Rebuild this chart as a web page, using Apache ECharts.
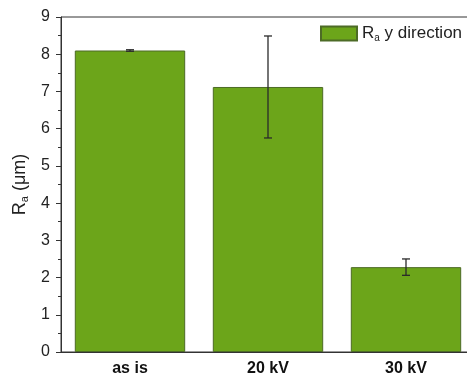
<!DOCTYPE html>
<html><head><meta charset="utf-8">
<script src="https://cdn.jsdelivr.net/npm/echarts@6/dist/echarts.min.js"></script>
<style>html,body{margin:0;padding:0;background:#fff;overflow:hidden}#c{width:480px;height:383px}</style>
</head><body><div id="c"></div>
<script>
const categories = ['as is', '20 kV', '30 kV'];
const raValues = [8.1, 7.12, 2.28];
const raErrors = [0.02, 1.37, 0.22];
const yTicks = [0, 1, 2, 3, 4, 5, 6, 7, 8, 9];

const chart = echarts.init(document.getElementById('c'), null, {renderer: 'canvas'});
const font = 'Liberation Sans, Arial, sans-serif';
const errData = categories.map((c, i) => [i, raValues[i] - raErrors[i], raValues[i] + raErrors[i]]);

chart.setOption({
  animation: false,
  grid: {left: 61, top: 17, bottom: 31, right: 5, show: true, borderColor: '#333', borderWidth: 1, containLabel: false},
  legend: {
    data: ['Ra'], left: 315, top: 20, itemWidth: 36, itemHeight: 14, itemGap: 5,
    icon: 'rect',
    formatter: () => '{r|R}{s|a}{r| y direction}',
    textStyle: {fontFamily: font, color: '#222', rich: {
      r: {fontSize: 17, fontFamily: font, color: '#222'},
      s: {fontSize: 10, fontFamily: font, color: '#222', verticalAlign: 'bottom', padding: [9, 0, 0, 0]}
    }}
  },
  xAxis: [{
    type: 'category', data: categories,
    axisLine: {lineStyle: {color: '#333'}},
    axisTick: {alignWithLabel: true, length: 5, inside: false, lineStyle: {color: '#333'}},
    axisLabel: {fontFamily: font, fontWeight: 'bold', fontSize: 16, color: '#111', margin: 9}
  }, {
    type: 'category', data: categories, position: 'bottom',
    axisLine: {show: false},
    axisTick: {length: 3, lineStyle: {color: '#333'}},
    axisLabel: {show: false}
  }],
  yAxis: {
    type: 'value', min: 0, max: 9, interval: 1,
    name: '{r|R}{s|a}{r| (μm)}', nameLocation: 'middle', nameGap: 30, nameRotate: 90,
    nameTextStyle: {rich: {
      r: {fontSize: 18, fontFamily: font, color: '#222'},
      s: {fontSize: 11, fontFamily: font, color: '#222', verticalAlign: 'bottom', padding: [10, 0, 0, 0]}
    }},
    axisLine: {show: true, lineStyle: {color: '#333'}},
    axisTick: {show: true, length: 5, lineStyle: {color: '#333'}},
    minorTick: {show: true, splitNumber: 2, length: 3, lineStyle: {color: '#333'}},
    splitLine: {show: false},
    axisLabel: {fontFamily: font, fontSize: 16, color: '#222', margin: 11,
      formatter: v => yTicks.includes(v) ? String(v) : ''}
  },
  series: [{
    name: 'Ra', type: 'bar', data: raValues, barWidth: '80%',
    itemStyle: {color: '#6ca51a', borderColor: '#4d6b26', borderWidth: 1}
  }, {
    type: 'custom', data: errData, z: 10,
    renderItem: (params, api) => {
      const x = api.value(0);
      const lo = api.coord([x, api.value(1)]);
      const hi = api.coord([x, api.value(2)]);
      const cw = 4;
      const st = {stroke: '#2a2a2a', lineWidth: 1.3};
      return {type: 'group', children: [
        {type: 'line', shape: {x1: hi[0], y1: hi[1], x2: lo[0], y2: lo[1]}, style: st},
        {type: 'line', shape: {x1: hi[0] - cw, y1: hi[1], x2: hi[0] + cw, y2: hi[1]}, style: st},
        {type: 'line', shape: {x1: lo[0] - cw, y1: lo[1], x2: lo[0] + cw, y2: lo[1]}, style: st}
      ]};
    }
  }]
});
</script></body></html>
